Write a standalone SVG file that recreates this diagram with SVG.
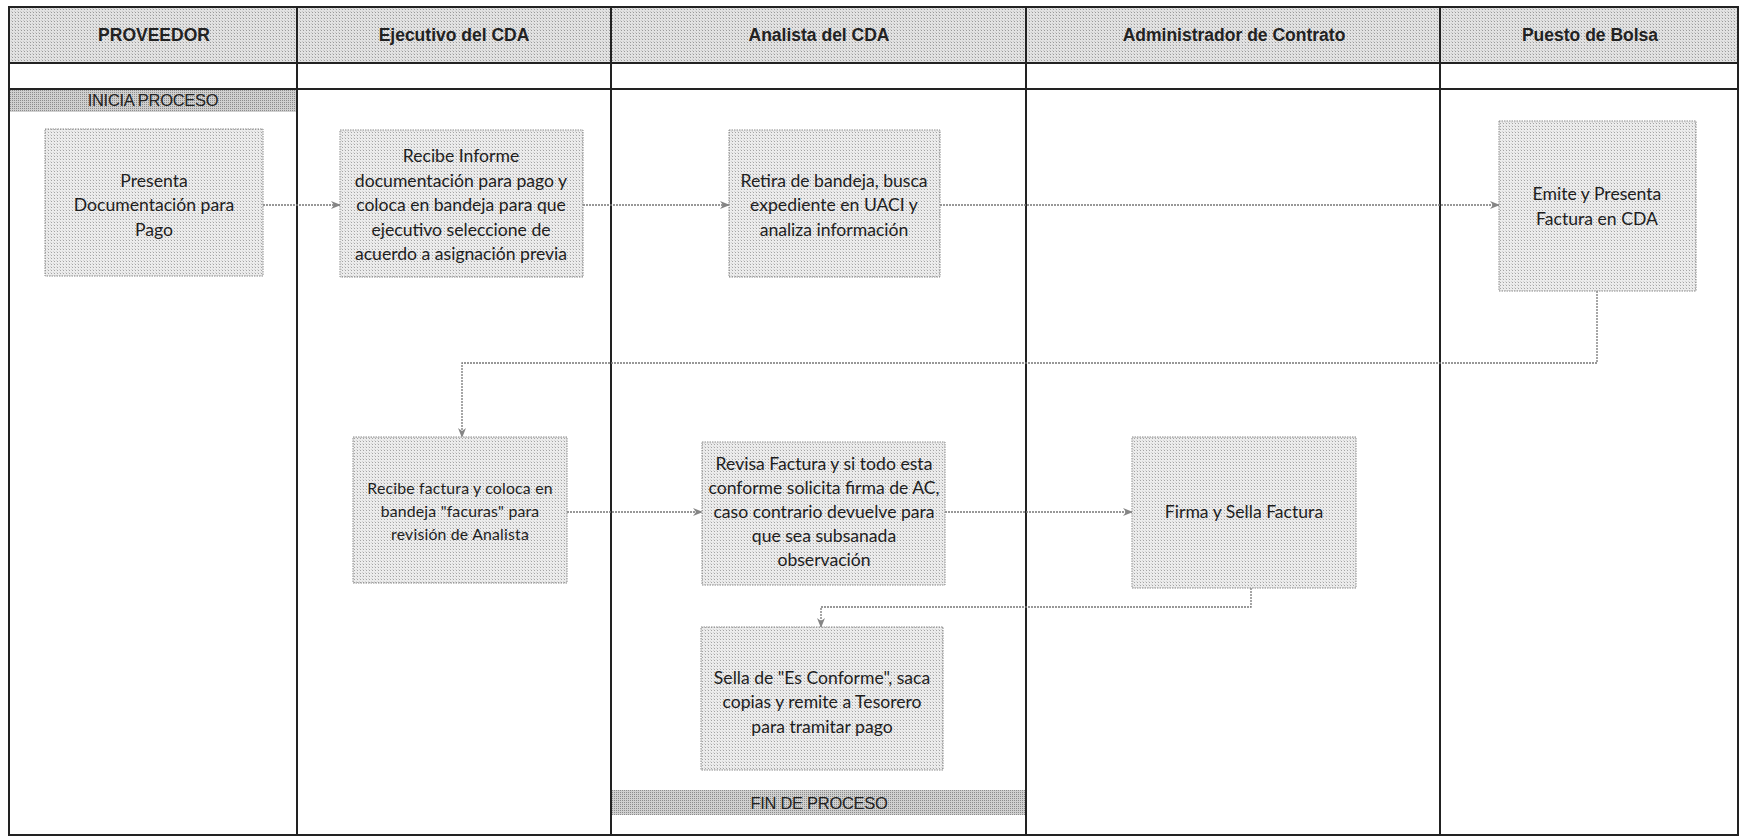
<svg xmlns="http://www.w3.org/2000/svg" width="1740" height="838" viewBox="0 0 1740 838">
<style>
.hdrtxt{font-family:"Liberation Sans",Arial,sans-serif;font-weight:bold;font-size:17.5px;fill:#222;text-anchor:middle}
.bandtxt{font-family:"Liberation Sans",Arial,sans-serif;font-size:16.5px;fill:#222;text-anchor:middle;letter-spacing:-0.3px}
.box{fill:url(#boxpat);stroke:#8a8a8a;stroke-width:1;stroke-dasharray:1.5 1}
.t{font-family:Lato,"Open Sans",sans-serif;font-size:17.6px;fill:#1e1e1e;text-anchor:middle}
.ts{font-family:Lato,"Open Sans",sans-serif;font-size:15.8px;fill:#1e1e1e;text-anchor:middle;letter-spacing:0.2px}
.grid{stroke:#222;stroke-width:2;fill:none}
.conn{fill:none;stroke:#777;stroke-width:1.3;stroke-dasharray:2 1}
</style>
<defs>
<pattern id="hdrpat" width="3" height="3" patternUnits="userSpaceOnUse">
<rect width="3" height="3" fill="#e2e2e2"/><rect width="1" height="1" fill="#9a9a9a"/><rect x="2" y="2" width="1" height="1" fill="#c8c8c8"/>
</pattern>
<pattern id="bandpat" width="2" height="2" patternUnits="userSpaceOnUse">
<rect width="2" height="2" fill="#d0d0d0"/><rect width="1" height="1" fill="#8c8c8c"/>
</pattern>
<pattern id="boxpat" width="3" height="3" patternUnits="userSpaceOnUse">
<rect width="3" height="3" fill="#ececec"/><rect width="1" height="1" fill="#a4a4a4"/><rect x="2" y="2" width="1" height="1" fill="#d4d4d4"/>
</pattern>
<marker id="arr" viewBox="0 0 10 10" refX="9" refY="5" markerWidth="10" markerHeight="10" markerUnits="userSpaceOnUse" orient="auto">
<path d="M0,1 L10,5 L0,9 L3,5 Z" fill="#858585"/>
</marker>
</defs>
<rect width="1740" height="838" fill="#ffffff"/>

<g id="frame">
<rect x="9" y="7" width="1729" height="56" fill="url(#hdrpat)"/>
<rect x="9" y="89" width="288" height="23" fill="url(#bandpat)"/>
<rect x="611" y="790" width="415" height="25" fill="url(#bandpat)"/>
<rect x="9" y="7" width="1729" height="828" class="grid"/>
<line x1="9" y1="63" x2="1738" y2="63" class="grid"/>
<line x1="9" y1="89" x2="1738" y2="89" class="grid"/>
<line x1="297" y1="7" x2="297" y2="835" class="grid"/>
<line x1="611" y1="7" x2="611" y2="835" class="grid"/>
<line x1="1026" y1="7" x2="1026" y2="835" class="grid"/>
<line x1="1440" y1="7" x2="1440" y2="835" class="grid"/>
<text x="154" y="41" class="hdrtxt">PROVEEDOR</text>
<text x="454" y="41" class="hdrtxt">Ejecutivo del CDA</text>
<text x="819" y="41" class="hdrtxt">Analista del CDA</text>
<text x="1234" y="41" class="hdrtxt">Administrador de Contrato</text>
<text x="1590" y="41" class="hdrtxt">Puesto de Bolsa</text>
<text x="153" y="106" class="bandtxt">INICIA PROCESO</text>
<text x="819" y="809" class="bandtxt">FIN DE PROCESO</text>
</g>

<g id="connectors">
<line x1="263" y1="205" x2="340" y2="205" class="conn" marker-end="url(#arr)"/>
<line x1="583" y1="205" x2="729" y2="205" class="conn" marker-end="url(#arr)"/>
<line x1="940" y1="205" x2="1499" y2="205" class="conn" marker-end="url(#arr)"/>
<polyline points="1597,291 1597,363 462,363 462,437" class="conn" marker-end="url(#arr)"/>
<line x1="567" y1="512" x2="702" y2="512" class="conn" marker-end="url(#arr)"/>
<line x1="945" y1="512" x2="1132" y2="512" class="conn" marker-end="url(#arr)"/>
<polyline points="1251,588 1251,607 821,607 821,627" class="conn" marker-end="url(#arr)"/>
</g>

<g id="n1">
<rect x="45" y="129" width="218" height="147" class="box"/>
<text class="t"><tspan x="154" y="187">Presenta</tspan><tspan x="154" y="211">Documentación para</tspan><tspan x="154" y="236">Pago</tspan></text>
</g>
<g id="n2">
<rect x="340" y="130" width="243" height="147" class="box"/>
<text class="t"><tspan x="461" y="162">Recibe Informe</tspan><tspan x="461" y="187">documentación para pago y</tspan><tspan x="461" y="211">coloca en bandeja para que</tspan><tspan x="461" y="236">ejecutivo seleccione de</tspan><tspan x="461" y="260">acuerdo a asignación previa</tspan></text>
</g>
<g id="n3">
<rect x="729" y="130" width="211" height="147" class="box"/>
<text class="t"><tspan x="834" y="187">Retira de bandeja, busca</tspan><tspan x="834" y="211">expediente en UACI y</tspan><tspan x="834" y="236">analiza información</tspan></text>
</g>
<g id="n4">
<rect x="1499" y="121" width="197" height="170" class="box"/>
<text class="t"><tspan x="1597" y="200">Emite y Presenta</tspan><tspan x="1597" y="225">Factura en CDA</tspan></text>
</g>
<g id="n5">
<rect x="353" y="437" width="214" height="146" class="box"/>
<text class="ts"><tspan x="460" y="494">Recibe factura y coloca en</tspan><tspan x="460" y="517">bandeja "facuras" para</tspan><tspan x="460" y="540">revisión de Analista</tspan></text>
</g>
<g id="n6">
<rect x="702" y="442" width="243" height="143" class="box"/>
<text class="t"><tspan x="824" y="470">Revisa Factura y si todo esta</tspan><tspan x="824" y="494">conforme solicita firma de AC,</tspan><tspan x="824" y="518">caso contrario devuelve para</tspan><tspan x="824" y="542">que sea subsanada</tspan><tspan x="824" y="566">observación</tspan></text>
</g>
<g id="n7">
<rect x="1132" y="437" width="224" height="151" class="box"/>
<text class="t"><tspan x="1244" y="518">Firma y Sella Factura</tspan></text>
</g>
<g id="n8">
<rect x="701" y="627" width="242" height="143" class="box"/>
<text class="t"><tspan x="822" y="684">Sella de "Es Conforme", saca</tspan><tspan x="822" y="708">copias y remite a Tesorero</tspan><tspan x="822" y="733">para tramitar pago</tspan></text>
</g>
</svg>
